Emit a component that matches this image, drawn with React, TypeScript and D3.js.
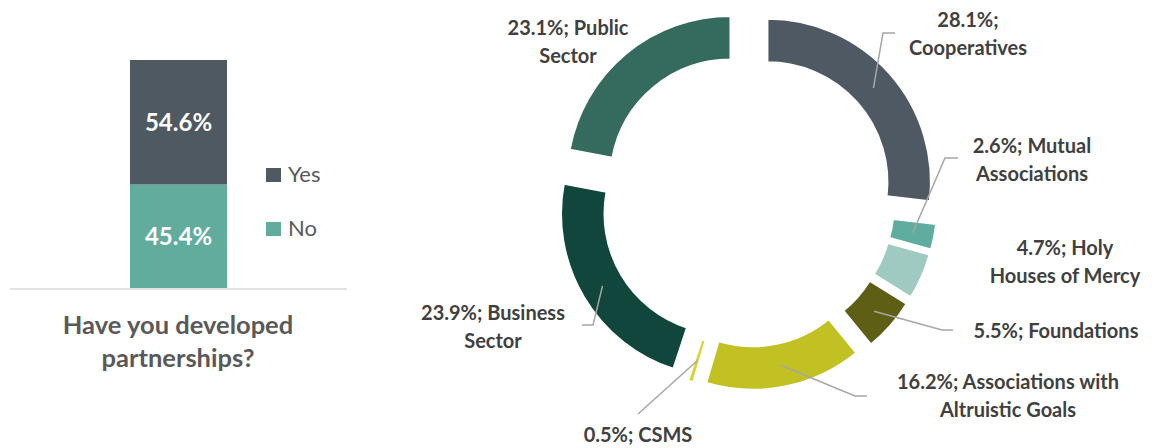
import React from "react";
import * as d3 from "d3";

// ---- Data ----
const barCategories = ["No", "Yes"];
const barValues = [45.4, 54.6];
const barColors = ["#62AC9E", "#4E5962"];
const barTitle = ["Have you developed", "partnerships?"];

const donutCategories = [
  "Cooperatives",
  "Mutual Associations",
  "Holy Houses of Mercy",
  "Foundations",
  "Associations with Altruistic Goals",
  "CSMS",
  "Business Sector",
  "Public Sector",
];
const donutValues = [28.1, 2.6, 4.7, 5.5, 16.2, 0.5, 23.9, 23.1];
const donutColors = ["#4F5963", "#5FAD9F", "#9ECAC2", "#5E5F14", "#C2C124", "#D6D43A", "#10463C", "#356A5F"];
const donutLabelLines = [
  ["28.1%;", "Cooperatives"],
  ["2.6%; Mutual", "Associations"],
  ["4.7%; Holy", "Houses of Mercy"],
  ["5.5%; Foundations"],
  ["16.2%; Associations with", "Altruistic Goals"],
  ["0.5%; CSMS"],
  ["23.9%; Business", "Sector"],
  ["23.1%; Public", "Sector"],
];

// ---- Layout (positions of labels / leader elbows) ----
const labelLayout = [
  { x: 968, y: 27, leader: [[883, 33], [895, 33]] },
  { x: 1032, y: 153, leader: [[945, 158], [958, 158]] },
  { x: 1065, y: 255, leader: null },
  { x: 1056, y: 338, leader: [[942, 330], [953, 330]] },
  { x: 1008, y: 389, leader: [[855, 396], [867, 396]] },
  { x: 638, y: 442, leader: [[638, 414]] },
  { x: 493, y: 320, leader: [[593, 325], [582, 325]] },
  { x: 568, y: 35, leader: null },
];

const FONT = "Lato, 'Open Sans', sans-serif";

export default function App() {
  // Bar chart
  const barX = d3.scaleBand().domain(["q"]).range([10, 347]).paddingInner(0).paddingOuter(1.237);
  const barY = d3.scaleLinear().domain([0, 100]).range([288, 60]);
  const stacked: { cat: string; y0: number; y1: number; color: string; v: number }[] = [];
  let acc = 0;
  barCategories.forEach((c, i) => {
    stacked.push({ cat: c, y0: acc, y1: acc + barValues[i], color: barColors[i], v: barValues[i] });
    acc += barValues[i];
  });
  const bx = barX("q")!;
  const bw = barX.bandwidth();
  const legendOrder = [1, 0];

  // Donut
  const cx = 747.5;
  const cy = 200;
  const R = 163;
  const r = 120;
  const explode = 27;
  const pie = d3.pie<number>().sort(null).value((d) => d).startAngle(0).endAngle(2 * Math.PI);
  const arcs = pie(donutValues);
  const arcGen = d3.arc<d3.PieArcDatum<number>>().innerRadius(r).outerRadius(R);

  return (
    <svg
      width={1159}
      height={448}
      style={{ position: "absolute", left: 0, top: 0, display: "block", background: "#fff" }}
      fontFamily={FONT}
    >
      {/* Bar panel */}
      <g>
        {stacked.map((s) => (
          <g key={s.cat}>
            <rect x={bx} width={bw} y={barY(s.y1)} height={barY(s.y0) - barY(s.y1)} fill={s.color} />
            <text
              x={bx + bw / 2}
              y={(barY(s.y0) + barY(s.y1)) / 2 + 8.5}
              textAnchor="middle"
              fill="#fff"
              fontWeight={700}
              fontSize={24}
            >
              {s.v.toFixed(1)}%
            </text>
          </g>
        ))}
        <line x1={10} x2={347} y1={289} y2={289} stroke="#D9D9D9" strokeWidth={1.5} />
        {legendOrder.map((i, k) => (
          <g key={barCategories[i]} transform={`translate(266, ${168 + k * 54})`}>
            <rect width={15} height={14} fill={barColors[i]} />
            <text x={22} y={14} fill="#595959" fontSize={22}>
              {barCategories[i]}
            </text>
          </g>
        ))}
        {barTitle.map((t, i) => (
          <text key={t} x={178} y={334 + i * 33} textAnchor="middle" fill="#595959" fontWeight={700} fontSize={25.5}>
            {t}
          </text>
        ))}
      </g>

      {/* Donut panel */}
      <g>
        {arcs.map((a, i) => {
          const mid = (a.startAngle + a.endAngle) / 2;
          const ox = explode * Math.sin(mid);
          const oy = -explode * Math.cos(mid);
          return (
            <path
              key={donutCategories[i]}
              d={arcGen(a)!}
              fill={donutColors[i]}
              stroke="#fff"
              strokeWidth={1.5}
              transform={`translate(${cx + ox}, ${cy + oy})`}
            />
          );
        })}
        {arcs.map((a, i) => {
          const mid = (a.startAngle + a.endAngle) / 2;
          const [c0, c1] = arcGen.centroid(a);
          const sx = cx + c0 + explode * Math.sin(mid);
          const sy = cy + c1 - explode * Math.cos(mid);
          const lay = labelLayout[i];
          const pts = lay.leader ? [[sx, sy], ...lay.leader] : null;
          return (
            <g key={"lab" + i}>
              {pts && (
                <path
                  d={d3.line()(pts as [number, number][])!}
                  fill="none"
                  stroke="#A6A6A6"
                  strokeWidth={1.5}
                />
              )}
              {donutLabelLines[i].map((t, j) => (
                <text
                  key={j}
                  x={lay.x}
                  y={lay.y + j * 27.5}
                  textAnchor="middle"
                  fill="#404040"
                  fontWeight={700}
                  fontSize={20}
                >
                  {t}
                </text>
              ))}
            </g>
          );
        })}
      </g>
    </svg>
  );
}
